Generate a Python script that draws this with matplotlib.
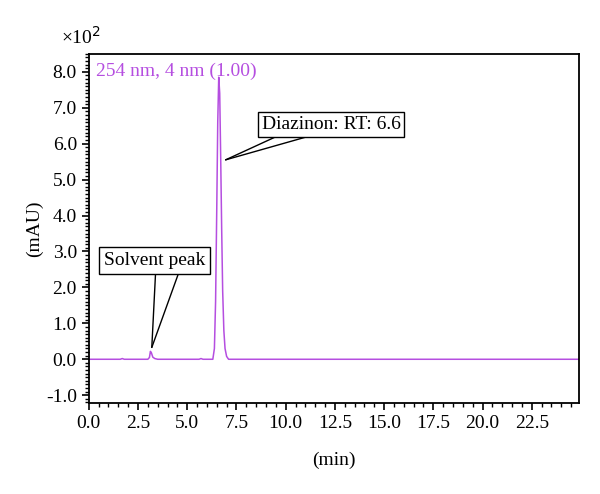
import matplotlib.pyplot as plt
from matplotlib.ticker import MultipleLocator, FormatStrFormatter

# retention time (min) and absorbance (x10^2 mAU)
time_min = [0.0, 1.6, 1.7, 1.8, 3.0, 3.08, 3.13, 3.18, 3.25, 3.35, 3.5,
            5.6, 5.7, 5.8, 6.3, 6.38, 6.44, 6.5, 6.55, 6.6, 6.65,
            6.7, 6.75, 6.8, 6.86, 6.92, 7.0, 7.1, 25.0]
absorb = [0.0, 0.0, 0.02, 0.0, 0.0, 0.05, 0.22, 0.18, 0.06, 0.02, 0.0,
          0.0, 0.02, 0.0, 0.0, 0.3, 1.6, 4.2, 6.6, 7.85, 7.4,
          5.6, 3.6, 1.9, 0.8, 0.3, 0.08, 0.0, 0.0]

x_ticks = [0.0, 2.5, 5.0, 7.5, 10.0, 12.5, 15.0, 17.5, 20.0, 22.5]
y_ticks = [-1.0, 0.0, 1.0, 2.0, 3.0, 4.0, 5.0, 6.0, 7.0, 8.0]

purple = '#b54ee0'
fs = 14
plt.rcParams['font.family'] = ['Liberation Serif', 'DejaVu Serif']
plt.rcParams['font.size'] = fs

fig = plt.figure(figsize=(6, 4.94), dpi=100)
ax = fig.add_axes([0.148, 0.184, 0.817, 0.707])
ax.plot(time_min, absorb, color=purple, lw=1.1)

ax.set_xlim(0, 24.9)
ax.set_ylim(-1.22, 8.5)
ax.set_xticks(x_ticks)
ax.set_yticks(y_ticks)
ax.xaxis.set_minor_locator(MultipleLocator(0.5))
ax.yaxis.set_minor_locator(MultipleLocator(0.1))
ax.xaxis.set_major_formatter(FormatStrFormatter('%.1f'))
ax.yaxis.set_major_formatter(FormatStrFormatter('%.1f'))
ax.tick_params(which='major', direction='out', length=5, width=1.2, labelsize=fs)
ax.tick_params(which='minor', direction='out', length=3, width=1.0)
for s in ax.spines.values():
    s.set_linewidth(1.3)

ax.set_xlabel('(min)', fontsize=fs, labelpad=14)
ax.set_ylabel('(mAU)', fontsize=fs, labelpad=2)
fig.text(0.102, 0.925, '\u00d710$^2$', fontsize=fs, ha='left', va='center')

ax.text(0.35, 8.0, '254 nm, 4 nm (1.00)', color=purple, fontsize=fs,
        ha='left', va='center')


def callout(label, point, text_pos, rel_a, rel_b, pad):
    box = dict(boxstyle='square,pad=%s' % pad, fc='white', ec='black', lw=1.0)
    ghost = dict(boxstyle='square,pad=%s' % pad, fc='none', ec='none')
    line = dict(arrowstyle='-', color='black', lw=1.0, shrinkA=0, shrinkB=0)
    ax.annotate(label, xy=point, xytext=text_pos, ha='center', va='center',
                fontsize=fs, color='none', bbox=ghost,
                arrowprops=dict(line, relpos=(rel_b, 0.0)))
    ax.annotate(label, xy=point, xytext=text_pos, ha='center', va='center',
                fontsize=fs, bbox=box, zorder=5,
                arrowprops=dict(line, relpos=(rel_a, 0.0)))


callout('Solvent peak', (3.2, 0.33), (3.35, 2.75), 0.51, 0.75, 0.25)
callout('Diazinon: RT: 6.6', (6.95, 5.55), (12.3, 6.53), 0.16, 0.42, 0.2)

fig.savefig('out.png', dpi=100)
